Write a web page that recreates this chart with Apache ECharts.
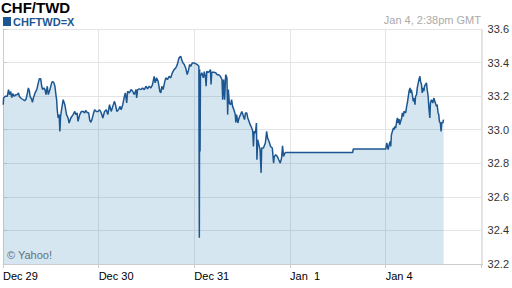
<!DOCTYPE html>
<html>
<head>
<meta charset="utf-8">
<script src="https://cdn.jsdelivr.net/npm/echarts@6/dist/echarts.min.js"></script>
<style>html,body{margin:0;padding:0;background:#fff}#c{width:512px;height:288px}</style>
</head>
<body>
<div id="c"></div>
<script>
// trading hours counted from Dec 29 00:00 GMT (weekend Jan 2-3 skipped)
const dayLabels = ['Dec 29', 'Dec 30', 'Dec 31', 'Jan  1', 'Jan 4'];
const yTicks = [32.2, 32.4, 32.6, 32.8, 33.0, 33.2, 33.4, 33.6];
const hours = [
0.07,0.15,0.57,1.07,1.39,1.64,1.94,2.19,2.44,2.81,
3.19,3.56,3.88,4.13,4.48,4.81,5.43,5.80,6.13,6.37,
6.62,6.80,7.22,7.37,7.62,8.04,8.47,8.86,9.11,9.46,
9.71,9.96,10.28,10.53,10.78,11.11,11.35,11.78,12.20,12.45,
12.77,13.02,13.27,13.45,13.60,13.84,14.09,14.27,14.44,14.69,
15.09,15.51,15.94,16.33,16.58,17.01,17.58,18.00,18.25,18.58,
18.82,19.25,19.67,20.07,20.49,20.74,21.12,21.49,21.74,21.99,
22.31,22.73,22.98,23.41,23.80,24.23,24.65,25.05,25.47,25.90,
26.29,26.72,27.14,27.54,27.96,28.21,28.54,28.96,29.38,29.63,
30.03,30.45,30.70,31.03,31.27,31.70,32.12,32.52,32.94,33.37,
33.52,33.76,34.19,34.61,35.01,35.43,35.86,36.25,36.68,37.10,
37.50,37.92,38.17,38.50,38.92,39.34,39.59,39.84,40.16,40.59,
40.84,41.23,41.66,42.08,42.48,42.90,43.33,43.72,44.15,44.57,
44.82,45.14,45.47,45.82,46.21,46.46,46.81,47.14,47.46,47.88,
48.31,48.70,49.13,49.25,49.33,49.43,49.53,49.87,50.25,50.50,
50.80,50.95,51.12,51.44,51.79,52.04,52.19,52.36,52.86,53.36,
53.73,54.11,54.53,54.93,55.10,55.35,55.60,55.85,56.17,56.35,
56.52,56.77,57.10,57.34,57.59,57.92,58.27,58.39,58.59,58.91,
59.21,59.58,59.91,60.33,60.58,60.83,61.15,61.40,61.70,62.00,
62.40,62.65,62.82,63.00,63.32,63.57,63.69,63.89,64.19,64.49,
64.74,64.89,65.32,65.81,66.13,66.38,66.73,67.13,67.55,67.88,
68.05,68.43,68.80,69.17,69.55,69.87,70.12,70.37,70.72,70.87,
87.72,87.85,96.01,96.26,96.61,96.86,97.11,97.26,97.43,97.68,
97.93,98.11,98.26,98.50,98.75,98.93,99.10,99.35,99.50,99.75,
100.00,100.17,100.42,100.60,101.00,101.25,101.42,101.85,102.09,102.24,
102.42,102.67,102.92,103.09,103.34,103.49,103.74,103.91,104.16,104.34,
104.58,104.73,104.98,105.15,105.40,105.58,105.73,105.97,106.22,106.40,
106.65,106.82,107.07,107.22,107.47,107.82,108.07,108.21,108.46,108.71,
108.89,109.14,109.31,109.46,109.71,109.88,110.06,110.31,110.51
];
const rates = [
33.149,33.189,33.199,33.199,33.239,33.209,33.227,33.191,33.215,33.199,
33.209,33.209,33.219,33.197,33.189,33.183,33.173,33.183,33.219,33.249,
33.229,33.199,33.179,33.163,33.189,33.219,33.239,33.279,33.303,33.303,
33.259,33.239,33.249,33.239,33.209,33.259,33.209,33.239,33.279,33.288,
33.279,33.259,33.209,33.179,33.119,33.070,33.090,32.990,33.079,33.119,
33.179,33.149,33.090,33.070,33.040,33.070,33.090,33.109,33.090,33.100,
33.050,33.090,33.109,33.109,33.100,33.115,33.103,33.100,33.060,33.044,
33.060,33.100,33.119,33.109,33.109,33.119,33.100,33.070,33.109,33.119,
33.090,33.149,33.109,33.139,33.169,33.149,33.109,33.119,33.139,33.119,
33.149,33.199,33.219,33.159,33.229,33.219,33.239,33.229,33.209,33.239,
33.189,33.239,33.243,33.239,33.249,33.239,33.259,33.243,33.259,33.249,
33.269,33.318,33.279,33.309,33.288,33.229,33.219,33.259,33.239,33.288,
33.309,33.299,33.318,33.309,33.339,33.358,33.368,33.388,33.428,33.438,
33.418,33.398,33.388,33.368,33.328,33.348,33.388,33.378,33.398,33.398,
33.394,33.388,33.378,32.357,33.358,32.870,33.318,33.339,33.309,33.346,
33.309,33.259,33.348,33.342,33.348,33.358,33.269,33.342,33.342,33.339,
33.328,33.328,33.318,33.299,33.179,33.299,33.179,33.328,33.310,33.090,
33.239,33.159,33.149,33.179,33.139,33.119,33.090,33.043,33.090,33.040,
33.070,33.090,33.109,33.079,33.060,33.100,33.100,33.070,33.050,33.030,
33.010,32.990,32.900,32.990,32.980,33.040,32.821,32.940,32.910,32.881,
32.743,32.891,32.891,32.921,32.990,32.950,32.930,32.900,32.891,32.801,
32.841,32.851,32.841,32.821,32.801,32.831,32.904,32.841,32.861,32.864,
32.864,32.885,32.885,32.921,32.881,32.910,32.930,32.900,32.970,32.990,
33.010,33.000,33.020,33.010,33.050,33.070,33.040,33.064,33.030,33.050,
33.070,33.100,33.079,33.109,33.100,33.139,33.159,33.229,33.249,33.219,
33.239,33.209,33.169,33.189,33.149,33.199,33.209,33.249,33.279,33.299,
33.318,33.288,33.269,33.219,33.249,33.229,33.259,33.269,33.279,33.239,
33.199,33.130,33.070,33.159,33.179,33.159,33.189,33.179,33.159,33.139,
33.149,33.100,33.090,33.050,33.040,32.990,33.044,33.040,33.060
];
const seriesName = 'CHFTWD=X';
const titleText = 'CHF/TWD';
const stampText = 'Jan 4, 2:38pm GMT';
const creditText = '\u00a9 Yahoo!';

const data = hours.map((h, i) => [h, rates[i]]);
const font = 'Arial, "Liberation Sans", sans-serif';
const lineColor = '#1d5791';
const gridColor = '#e4e4e4';

const chart = echarts.init(document.getElementById('c'), null, {renderer: 'svg'});
chart.setOption({
  animation: false,
  backgroundColor: '#fff',
  title: {
    text: titleText, left: 0, top: 0, padding: [0, 1],
    textStyle: {fontFamily: font, fontSize: 15, fontWeight: 'bold', color: '#000'}
  },
  legend: {
    left: 0, top: 15, padding: [1, 3], itemWidth: 8, itemHeight: 9, itemGap: 4,
    icon: 'rect', data: [seriesName],
    textStyle: {fontFamily: font, fontSize: 11, fontWeight: 'bold', color: lineColor, padding: [0, 0, 0, -3]}
  },
  graphic: [
    {type: 'text', right: 31, top: 14, style: {text: stampText, font: '11px ' + font, fill: '#aaaaaa'}},
    {type: 'text', left: 7, top: 249, style: {text: creditText, font: '11px ' + font, fill: '#6e6e6e'}}
  ],
  grid: {left: 3, right: 26, top: 29, bottom: 24, containLabel: false},
  xAxis: {
    type: 'value', min: 0, max: 120.3, interval: 24,
    axisLine: {show: true, lineStyle: {color: '#cccccc'}},
    axisTick: {show: true, length: 4, lineStyle: {color: '#cccccc'}},
    splitLine: {show: true, lineStyle: {color: gridColor, width: 1}},
    axisLabel: {
      showMaxLabel: false, align: 'left', margin: 6,
      fontFamily: font, fontSize: 11, color: '#000',
      formatter: v => dayLabels[Math.round(v / 24)] || ''
    }
  },
  yAxis: {
    type: 'value', position: 'right', min: yTicks[0], max: yTicks[yTicks.length - 1], interval: 0.2,
    axisLine: {show: true, lineStyle: {color: '#cccccc'}},
    axisTick: {show: true, length: 4, lineStyle: {color: '#cccccc'}},
    splitLine: {show: true, lineStyle: {color: gridColor, width: 1}},
    axisLabel: {margin: 5, fontFamily: font, fontSize: 11, color: '#333', formatter: v => v.toFixed(1)}
  },
  series: [{
    name: seriesName, type: 'line', data: data, showSymbol: false, sampling: null,
    lineStyle: {color: lineColor, width: 1.5},
    itemStyle: {color: lineColor},
    areaStyle: {origin: 'start', color: 'rgb(50,130,185)', opacity: 0.2}
  }]
});
</script>
</body>
</html>
